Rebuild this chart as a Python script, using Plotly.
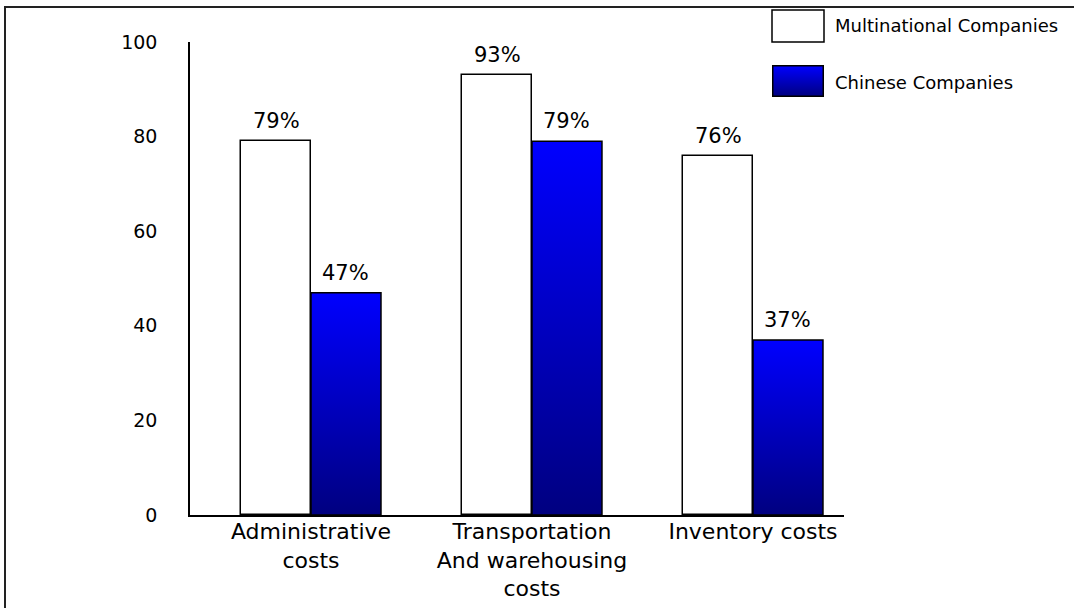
import base64
import plotly.graph_objects as go

# ---- data ----
categories = ["Administrative<br>costs", "Transportation<br>And warehousing<br>costs", "Inventory costs"]
multinational = [79, 93, 76]
chinese = [47, 79, 37]
series_names = ["Multinational Companies", "Chinese Companies"]
y_ticks = [0, 20, 40, 60, 80, 100]

# ---- styling / layout helpers ----
W, H = 1074, 608
FONT = "DejaVu Sans"
NAVY, BLUE = "#000080", "#0000FF"
GRAD = [[0, NAVY], [1, BLUE]]
BAR_W = 0.3167


def px(xp):
    return xp / W


def py(yp):
    return 1 - yp / H


x_pos = list(range(len(categories)))

fig = go.Figure()

# Multinational: white bars with black outline
fig.add_trace(go.Bar(
    x=[i - BAR_W / 2 for i in x_pos], y=multinational, width=BAR_W,
    marker=dict(color="white", line=dict(color="black", width=1.5)),
    name=series_names[0], showlegend=False, hoverinfo="skip",
))

# Chinese: gradient-filled bars built from the data
for i, v in zip(x_pos, chinese):
    x0, x1 = i, i + BAR_W
    fig.add_trace(go.Scatter(
        x=[x0, x0, x1, x1, x0], y=[0, v, v, 0, 0],
        mode="lines", fill="toself",
        line=dict(color="black", width=1.5),
        fillgradient=dict(type="vertical", colorscale=GRAD),
        name=series_names[1], showlegend=False, hoverinfo="skip",
    ))

annotations = []
for i, v in zip(x_pos, multinational):
    annotations.append(dict(x=i - BAR_W / 2, y=v, xref="x", yref="y", text=f"{v}%",
                            showarrow=False, yanchor="bottom", yshift=6,
                            font=dict(family=FONT, size=21, color="black")))
for i, v in zip(x_pos, chinese):
    annotations.append(dict(x=i + BAR_W / 2, y=v, xref="x", yref="y", text=f"{v}%",
                            showarrow=False, yanchor="bottom", yshift=6,
                            font=dict(family=FONT, size=21, color="black")))

# legend (manual, large swatches)
svg = (
    '<svg xmlns="http://www.w3.org/2000/svg" width="52" height="32" viewBox="0 0 52 32">'
    '<defs><linearGradient id="g" x1="0" y1="0" x2="0" y2="1">'
    f'<stop offset="0" stop-color="{BLUE}"/><stop offset="1" stop-color="{NAVY}"/>'
    '</linearGradient></defs>'
    '<rect x="0.75" y="0.75" width="50.5" height="30.5" fill="url(#g)" stroke="black" stroke-width="1.5"/>'
    '</svg>'
)
svg_uri = "data:image/svg+xml;base64," + base64.b64encode(svg.encode()).decode()

shapes = [
    # outer frame
    dict(type="rect", xref="paper", yref="paper", x0=px(5), y0=py(7), x1=1.02, y1=-0.02,
         line=dict(color="#222222", width=2), fillcolor="rgba(0,0,0,0)", layer="above"),
    # legend swatch: multinational
    dict(type="rect", xref="paper", yref="paper", x0=px(772), y0=py(10), x1=px(824), y1=py(42),
         line=dict(color="black", width=1.5), fillcolor="white"),
]

legend_rows = [(series_names[0], 26), (series_names[1], 82)]
for name, yc in legend_rows:
    annotations.append(dict(x=px(833), y=py(yc), xref="paper", yref="paper", text=name,
                            showarrow=False, xanchor="left", yanchor="middle",
                            font=dict(family=FONT, size=18, color="black")))

images = [dict(source=svg_uri, xref="paper", yref="paper", x=px(772), y=py(65),
               sizex=px(824) - px(772), sizey=(97 - 65) / H, xanchor="left", yanchor="top",
               sizing="stretch", layer="above")]

fig.update_layout(
    width=W, height=H,
    margin=dict(l=0, r=0, t=0, b=0),
    paper_bgcolor="white", plot_bgcolor="white",
    font=dict(family=FONT, color="black"),
    showlegend=False,
    bargap=0, bargroupgap=0,
    shapes=shapes, annotations=annotations, images=images,
    xaxis=dict(
        domain=[px(190), px(844)], range=[-0.5475, 2.4118],
        tickvals=x_pos, ticktext=categories, ticks="",
        showline=True, linecolor="black", linewidth=1.5,
        showgrid=False, zeroline=False, automargin=False,
        ticklabelstandoff=-4,
        tickfont=dict(family=FONT, size=22, color="black"),
        fixedrange=True,
    ),
    yaxis=dict(
        domain=[1 - 515 / H, 1 - 42 / H], range=[0, 100],
        tickvals=y_ticks, ticks="",
        showline=True, linecolor="black", linewidth=1.5,
        showgrid=False, zeroline=False, automargin=False,
        ticklabelstandoff=27,
        tickfont=dict(family=FONT, size=19, color="black"),
        fixedrange=True,
    ),
)

fig.write_html(
    "out.html",
    config={"displayModeBar": False},
    post_script="document.body.style.margin='0';document.body.style.overflow='hidden';",
)
